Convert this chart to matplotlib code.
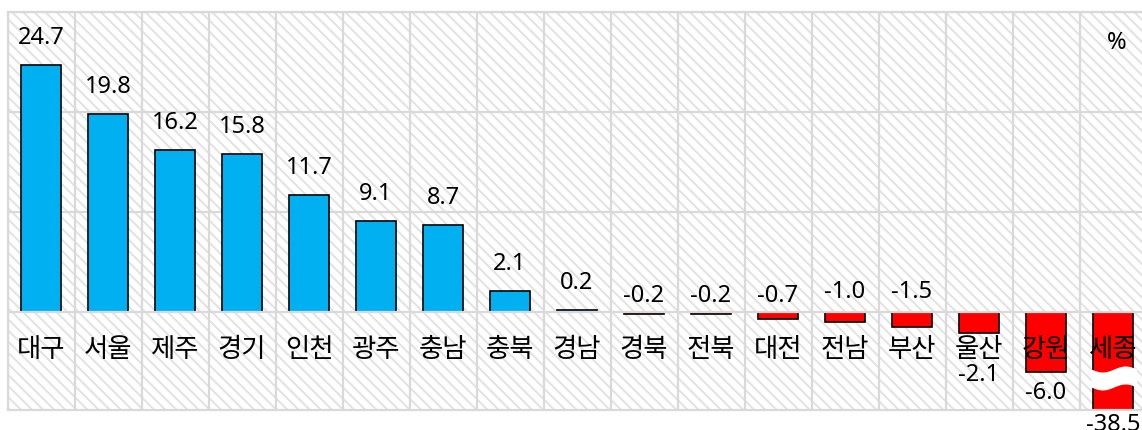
import matplotlib
matplotlib.use("Agg")
import matplotlib.pyplot as plt
import numpy as np
from matplotlib.patches import Rectangle, Polygon

# 지역별 증감률 (%)
regions = ["대구", "서울", "제주", "경기", "인천", "광주", "충남", "충북", "경남",
           "경북", "전북", "대전", "전남", "부산", "울산", "강원", "세종"]
values = [24.7, 19.8, 16.2, 15.8, 11.7, 9.1, 8.7, 2.1, 0.2,
          -0.2, -0.2, -0.7, -1.0, -1.5, -2.1, -6.0, -38.5]
value_labels = ["24.7", "19.8", "16.2", "15.8", "11.7", "9.1", "8.7", "2.1", "0.2",
                "-0.2", "-0.2", "-0.7", "-1.0", "-1.5", "-2.1", "-6.0", "-38.5"]

BLUE = "#00B0F0"
RED = "#FF0000"
GRID = "#D9D9D9"
NUM_FONT = ["Noto Sans", "DejaVu Sans"]
KR_FONT = ["Noto Sans CJK KR", "DejaVu Sans"]
YMIN, YMAX = -9.8, 30

plt.rcParams["hatch.linewidth"] = 1.4

fig = plt.figure(figsize=(11.42, 4.30), dpi=100)
ax = fig.add_axes([7.5 / 1142, 20 / 430, 1139 / 1142, 398 / 430])
ax.set_xlim(-0.5, len(regions) - 0.5)
ax.set_ylim(YMIN, YMAX)

# hatched background
ax.add_patch(Rectangle((0, 0), 1, 1, transform=ax.transAxes, facecolor="white",
                       edgecolor="#E2E2E2", hatch="\\\\\\", linewidth=0, zorder=0))

x = np.arange(len(regions))
colors = [BLUE if v >= 0 else RED for v in values]
ax.bar(x, values, width=0.6, color=colors, edgecolor="black", linewidth=1.2, zorder=2)

# grid
for b in np.arange(-0.5, len(regions), 1.0):
    ax.axvline(b, color=GRID, lw=1.6, zorder=1)
for h in [-10, 0, 10, 20, 30]:
    ax.axhline(h, color=GRID, lw=1.6, zorder=3 if h == 0 else 1)

# wave break on the truncated bar (세종)
i_cut = len(values) - 1
xs = np.linspace(x[i_cut] - 0.32, x[i_cut] + 0.36, 40)
t = (xs - xs[0]) / (xs[-1] - xs[0])
top = -5.75 - 0.3 * np.sin(2 * np.pi * t)
bot = top - 1.8
ax.add_patch(Polygon(np.column_stack([np.r_[xs, xs[::-1]], np.r_[top, bot[::-1]]]),
                     closed=True, facecolor="white", edgecolor="none", zorder=4))

# category labels
for xi, name in zip(x, regions):
    ax.text(xi, -3.75, name, ha="center", va="center", fontsize=19, family=KR_FONT, zorder=5)

# value labels
for xi, v, lab in zip(x, values, value_labels):
    if v >= 0:
        y = v + 2.1
    elif v > -2:
        y = 1.0 if v > -1 else 1.4
    elif v > YMIN:
        y = v - 4.8 if v > -3 else v - 2.7
    else:
        y = YMIN - 2.1
    ax.text(xi, y, lab, ha="center", va="baseline", fontsize=17,
            family=NUM_FONT, zorder=5, clip_on=False)

ax.text(16.06, 26.9, "%", ha="center", va="center", fontsize=17, family=NUM_FONT)

ax.set_xticks([])
ax.set_yticks([])
for s in ax.spines.values():
    s.set_color(GRID)
    s.set_linewidth(1.6)

fig.savefig("out.png", dpi=100)
